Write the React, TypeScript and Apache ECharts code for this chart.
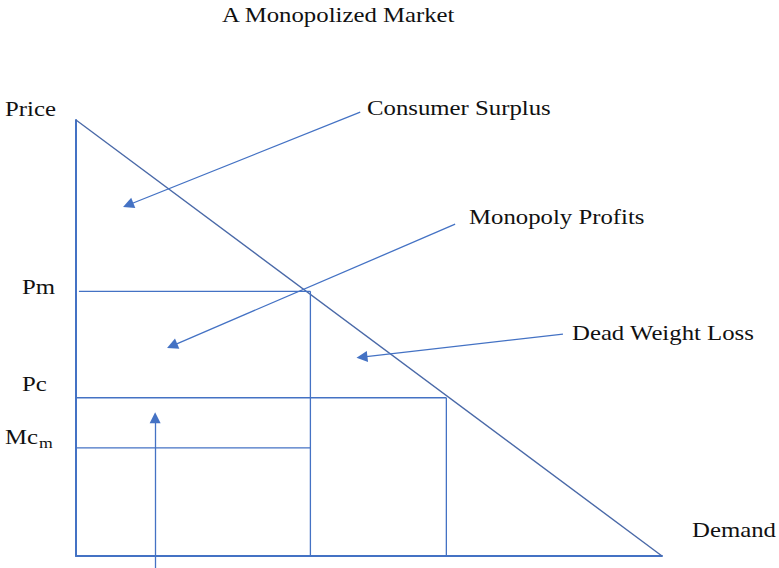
import React, { useEffect, useRef } from "react";
import * as echarts from "echarts";

// Quantity / price levels (axis units 0..10)
const demandLine = [[0, 10], [10, 0]];
const pmLevel = 6.07;
const qmLevel = 4.0;
const pcLevel = 3.63;
const qcLevel = 6.32;
const mcmLevel = 2.48;

// Annotation arrows: [from, to]
const arrowSegments = [
  [[4.85, 10.18], [0.89, 8.05]], // Consumer Surplus
  [[6.47, 7.61], [1.64, 4.82]], // Monopoly Profits
  [[8.31, 5.09], [4.88, 4.56]], // Dead Weight Loss
  [[1.35, -0.28], [1.35, 3.17]], // up arrow
];

// Texts
const titleText = "A Monopolized Market";
const annotationTexts = [
  { t: "Price", x: 5, y: 109 },
  { t: "Consumer Surplus", x: 367, y: 108 },
  { t: "Monopoly Profits", x: 469, y: 217 },
  { t: "Dead Weight Loss", x: 572, y: 333 },
  { t: "Demand", x: 692, y: 530 },
  { t: "Pm", x: 22, y: 287 },
  { t: "Pc", x: 22, y: 384 },
  { t: "Mc", x: 5, y: 437 },
];

const BLUE = "#4472C4";
const DEMAND = "#4A69A8";
const FONT = "'Liberation Serif', 'Times New Roman', serif";
const SX = 1.18;

export default function App() {
  const ref = useRef<HTMLDivElement>(null);
  useEffect(() => {
    if (!ref.current) return;
    const chart = echarts.init(ref.current, null, { renderer: "svg" });
    const seg = (data: number[][], color: string, width: number, name: string) => ({
      type: "line",
      name,
      data,
      symbol: "none",
      silent: true,
      lineStyle: { color, width },
      z: 3,
    });
    const textEl = (t: string, x: number, y: number, size = 21) => ({
      type: "text",
      x,
      y,
      scaleX: SX,
      style: {
        text: t,
        fontFamily: FONT,
        fontSize: size,
        fill: "#111",
        textAlign: "left",
        textVerticalAlign: "middle",
      },
    });
    const option: any = {
      animation: false,
      backgroundColor: "#fff",
      grid: { left: 76, top: 120, width: 586, height: 436, containLabel: false },
      xAxis: {
        type: "value",
        min: 0,
        max: 10,
        axisLine: { show: true, lineStyle: { color: BLUE, width: 2 } },
        axisTick: { show: false },
        axisLabel: { show: false },
        splitLine: { show: false },
      },
      yAxis: {
        type: "value",
        min: 0,
        max: 10,
        axisLine: { show: true, lineStyle: { color: BLUE, width: 2 } },
        axisTick: { show: false },
        axisLabel: { show: false },
        splitLine: { show: false },
      },
      series: [
        seg(demandLine, DEMAND, 1.4, "Demand"),
        seg([[0.05, pmLevel], [qmLevel, pmLevel]], BLUE, 1.3, "Pm"),
        seg([[qmLevel, pmLevel], [qmLevel, 0]], BLUE, 1.3, "Qm"),
        seg([[0, pcLevel], [qcLevel, pcLevel]], BLUE, 1.3, "Pc"),
        seg([[qcLevel, pcLevel], [qcLevel, 0]], BLUE, 1.3, "Qc"),
        seg([[0, mcmLevel], [qmLevel, mcmLevel]], BLUE, 1.3, "Mcm"),
        {
          type: "lines",
          coordinateSystem: "cartesian2d",
          silent: true,
          clip: false,
          symbol: ["none", "triangle"],
          symbolSize: [9, 11],
          lineStyle: { color: BLUE, width: 1.3, opacity: 1 },
          itemStyle: { color: BLUE },
          data: arrowSegments.map((c) => ({ coords: c })),
          z: 4,
        },
      ],
      graphic: [
        textEl(titleText, 222, 15),
        ...annotationTexts.map((a) => textEl(a.t, a.x, a.y)),
        textEl("m", 39, 443, 15),
      ],
    };
    chart.setOption(option);
    return () => chart.dispose();
  }, []);
  return (
    <div
      ref={ref}
      style={{ position: "fixed", left: 0, top: 0, width: 779, height: 568 }}
    />
  );
}
